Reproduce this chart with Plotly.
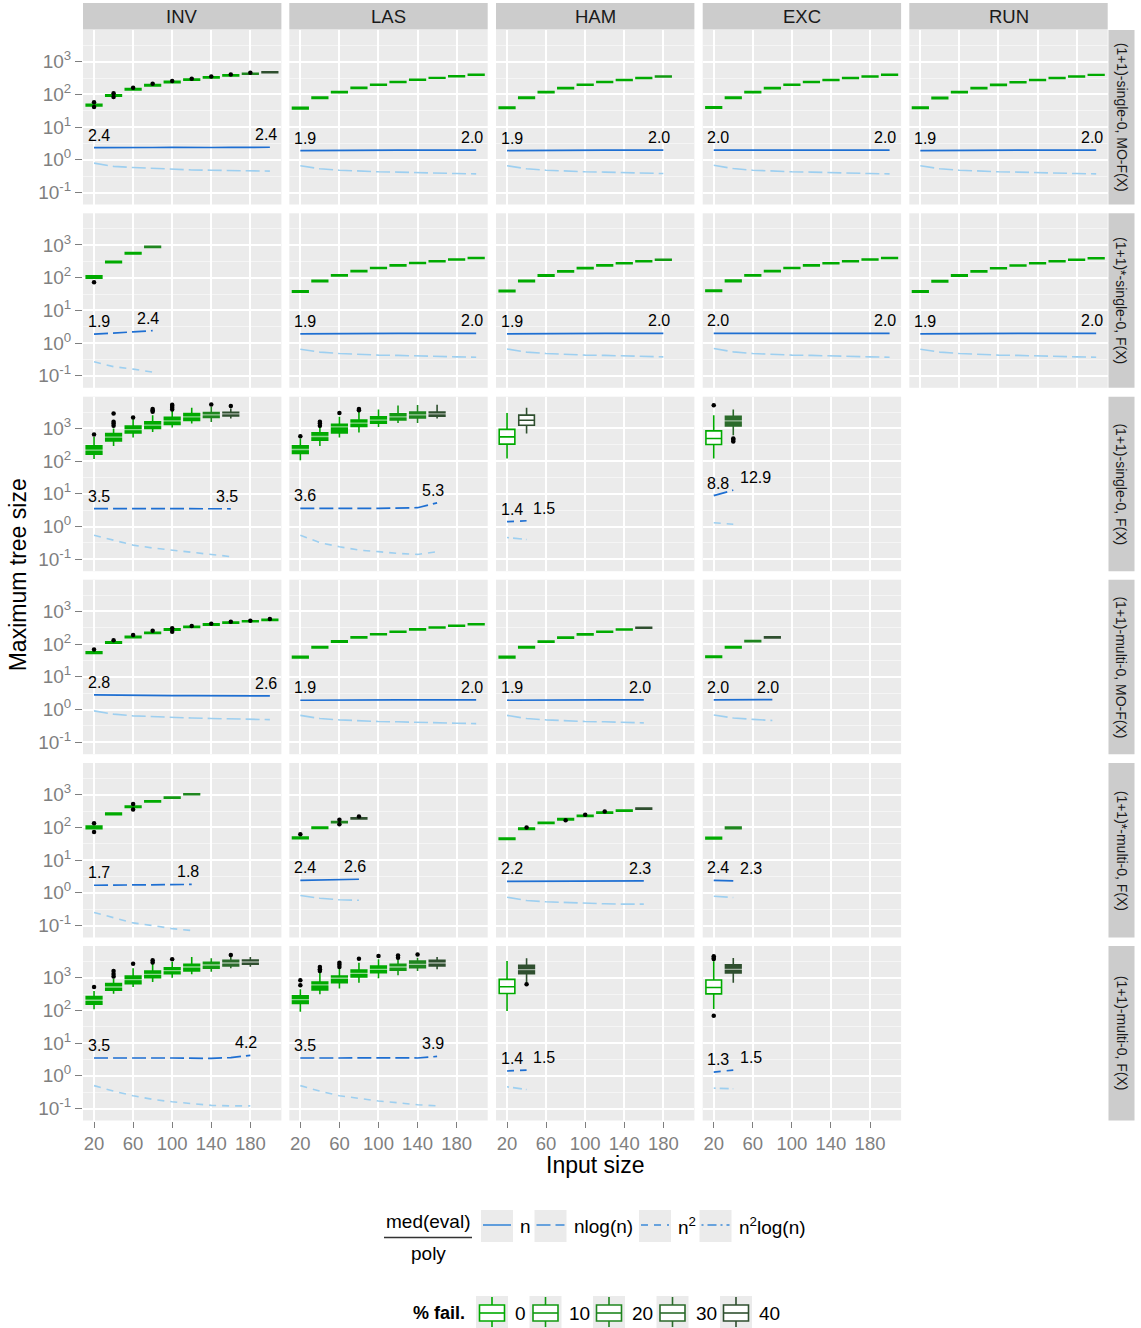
import math
import plotly.graph_objects as go

W, H = 1141, 1328

# ---------------------------------------------------------------- data
SIZES = [20, 40, 60, 80, 100, 120, 140, 160, 180, 200]
ALGOS = ["INV", "LAS", "HAM", "EXC", "RUN"]
VARIANTS = ["(1+1)-single-0, MO-F(X)", "(1+1)*-single-0, F(X)", "(1+1)-single-0, F(X)",
            "(1+1)-multi-0, MO-F(X)", "(1+1)*-multi-0, F(X)", "(1+1)-multi-0, F(X)"]
FAIL_LEVELS = [0, 10, 20, 30, 40]
FAIL_COLORS = ["#00AA00", "#129A12", "#1F861F", "#2B6B2B", "#2F4F2F"]
POLY_KEYS = ["n", "nlogn", "n2", "n2logn"]
POLY_LABELS = ["n", "nlog(n)", "n<sup>2</sup>", "n<sup>2</sup>log(n)"]

# row 1 : (1+1)-single-0, MO-F(X)
r1_inv_med = [47, 93, 143, 190, 240, 282, 333, 383, 428, 473]
r1_inv_q1 = [44, 88, 136, 181, 229, 270, 320, 368, 412, 458]
r1_inv_q3 = [50, 98, 150, 199, 251, 294, 346, 398, 444, 488]
r1_inv_fail = [0, 0, 0, 0, 0, 0, 0, 0, 20, 40]
r1_inv_out_x = [20, 20, 40, 40, 60, 80, 100, 120, 140, 160, 180]
r1_inv_out_y = [58, 41, 108, 83, 160, 212, 258, 300, 352, 403, 455]
r1_inv_main = [2.36, 2.33, 2.38, 2.38, 2.40, 2.35, 2.38, 2.39, 2.38, 2.42]
r1_inv_low = [0.79, 0.63, 0.58, 0.54, 0.52, 0.49, 0.48, 0.47, 0.46, 0.45]

r1_las_med = [38, 79, 117, 158, 198, 238, 280, 320, 360, 400]
r1_las_q1 = [36, 75, 112, 152, 191, 230, 271, 310, 349, 388]
r1_las_q3 = [40, 83, 122, 164, 205, 246, 289, 330, 371, 412]
r1_las_fail = [0, 0, 0, 0, 0, 0, 0, 0, 0, 0]
r1_las_main = [1.92, 1.95, 1.96, 1.97, 1.97, 1.98, 1.98, 1.99, 1.99, 1.97]
r1_las_low = [0.66, 0.53, 0.48, 0.45, 0.43, 0.42, 0.40, 0.39, 0.38, 0.37]

r1_ham_med = [39, 79, 117, 155, 198, 240, 275, 316, 355]
r1_ham_q1 = [37, 75, 112, 149, 191, 232, 266, 306, 344]
r1_ham_q3 = [41, 83, 122, 161, 205, 248, 284, 326, 366]
r1_ham_fail = [0, 0, 0, 0, 0, 0, 0, 0, 10]
r1_ham_main = [1.92, 1.95, 1.96, 1.97, 1.97, 1.98, 1.98, 1.99, 1.97]
r1_ham_low = [0.66, 0.53, 0.48, 0.45, 0.43, 0.42, 0.40, 0.39, 0.38]

r1_exc_med = [40, 79, 117, 155, 198, 240, 275, 316, 355, 400]
r1_exc_q1 = [38, 75, 112, 149, 191, 232, 266, 306, 344, 388]
r1_exc_q3 = [42, 83, 122, 161, 205, 248, 284, 326, 366, 412]
r1_exc_fail = [0, 0, 0, 0, 0, 0, 0, 0, 0, 0]
r1_exc_main = [1.98, 1.97, 1.97, 1.98, 1.98, 1.98, 1.98, 1.99, 1.99, 1.98]
r1_exc_low = [0.68, 0.54, 0.48, 0.45, 0.43, 0.42, 0.40, 0.39, 0.38, 0.37]

r1_run_med = [39, 78, 117, 155, 195, 235, 275, 316, 355, 395]
r1_run_q1 = [37, 74, 112, 149, 188, 227, 266, 306, 344, 383]
r1_run_q3 = [41, 82, 122, 161, 202, 243, 284, 326, 366, 407]
r1_run_fail = [0, 0, 0, 0, 0, 0, 0, 0, 0, 0]
r1_run_main = [1.92, 1.95, 1.96, 1.97, 1.97, 1.98, 1.98, 1.99, 1.99, 1.97]
r1_run_low = [0.66, 0.53, 0.48, 0.45, 0.43, 0.42, 0.40, 0.39, 0.38, 0.37]

# row 2 : (1+1)*-single-0, F(X)
r2_inv_med = [105, 300, 560, 870]
r2_inv_q1 = [97, 285, 535, 840]
r2_inv_q3 = [115, 318, 585, 905]
r2_inv_fail = [0, 0, 0, 20]
r2_inv_out_x = [20]
r2_inv_out_y = [72]
r2_inv_main = [1.88, 2.0, 2.2, 2.4]
r2_inv_low = [0.27, 0.19, 0.16, 0.13]

r2_las_med = [38, 79, 118, 158, 198, 238, 280, 320, 360, 400]
r2_las_q1 = [36, 75, 113, 152, 191, 230, 271, 310, 349, 388]
r2_las_q3 = [40, 83, 123, 164, 205, 246, 289, 330, 371, 412]
r2_las_fail = [0, 0, 0, 0, 0, 0, 0, 0, 0, 0]
r2_las_main = [1.92, 1.95, 1.96, 1.97, 1.97, 1.98, 1.98, 1.99, 1.99, 1.97]
r2_las_low = [0.65, 0.53, 0.48, 0.45, 0.43, 0.42, 0.40, 0.39, 0.38, 0.37]

r2_ham_med = [39, 79, 117, 156, 197, 238, 276, 316, 355]
r2_ham_q1 = [37, 75, 112, 150, 190, 230, 267, 306, 344]
r2_ham_q3 = [41, 83, 122, 162, 204, 246, 285, 326, 366]
r2_ham_fail = [0, 0, 0, 0, 0, 0, 0, 0, 10]
r2_ham_main = [1.92, 1.95, 1.96, 1.97, 1.97, 1.98, 1.98, 1.99, 1.97]
r2_ham_low = [0.66, 0.53, 0.48, 0.45, 0.43, 0.42, 0.40, 0.39, 0.38]

r2_exc_med = [40, 80, 118, 158, 198, 238, 278, 318, 358, 400]
r2_exc_q1 = [38, 76, 113, 152, 191, 230, 269, 308, 347, 388]
r2_exc_q3 = [42, 84, 123, 164, 205, 246, 287, 328, 369, 412]
r2_exc_fail = [0, 0, 0, 0, 0, 0, 0, 0, 0, 0]
r2_exc_main = [1.98, 1.97, 1.97, 1.98, 1.98, 1.98, 1.98, 1.99, 1.99, 1.98]
r2_exc_low = [0.68, 0.54, 0.48, 0.45, 0.43, 0.42, 0.40, 0.39, 0.38, 0.37]

r2_run_med = [38, 78, 117, 156, 195, 235, 275, 316, 355, 395]
r2_run_q1 = [36, 74, 112, 150, 188, 227, 266, 306, 344, 383]
r2_run_q3 = [40, 82, 122, 162, 202, 243, 284, 326, 366, 407]
r2_run_fail = [0, 0, 0, 0, 0, 0, 0, 0, 0, 0]
r2_run_main = [1.92, 1.95, 1.96, 1.97, 1.97, 1.98, 1.98, 1.99, 1.99, 1.97]
r2_run_low = [0.65, 0.53, 0.48, 0.45, 0.43, 0.42, 0.40, 0.39, 0.38, 0.37]

# row 3 : (1+1)-single-0, F(X)
r3_inv_med = [215, 540, 920, 1250, 1700, 2250, 2600, 2770]
r3_inv_q1 = [163, 415, 730, 1000, 1310, 1750, 2150, 2400]
r3_inv_q3 = [292, 700, 1170, 1580, 2200, 2850, 3050, 3100]
r3_inv_lo = [115, 290, 525, 780, 1060, 1400, 1580, 2000]
r3_inv_hi = [550, 1000, 1900, 2540, 3600, 4250, 4550, 4050]
r3_inv_fail = [0, 0, 0, 0, 0, 0, 20, 40]
r3_inv_out_x = [20, 40, 40, 40, 40, 60, 80, 80, 80, 100, 100, 100, 100, 140, 160]
r3_inv_out_y = [650, 1200, 1400, 1600, 2850, 2150, 3200, 3600, 3900, 3800, 4300, 4800, 5300, 5400, 4800]
r3_inv_main = [3.5, 3.45, 3.45, 3.5, 3.5, 3.55, 3.5, 3.48]
r3_inv_low = [0.54, 0.38, 0.27, 0.22, 0.19, 0.16, 0.14, 0.12]

r3_las_med = [226, 565, 1110, 1440, 1780, 2250, 2600, 2770]
r3_las_q1 = [171, 435, 730, 1150, 1440, 1800, 2100, 2350]
r3_las_q3 = [292, 730, 1340, 1800, 2250, 2800, 3150, 3150]
r3_las_lo = [107, 290, 525, 750, 1110, 1470, 1470, 2000]
r3_las_hi = [490, 1100, 2250, 3400, 3800, 5000, 5200, 5300]
r3_las_fail = [0, 0, 0, 0, 0, 10, 20, 40]
r3_las_out_x = [20, 40, 40, 40, 60, 80, 80]
r3_las_out_y = [575, 1200, 1400, 1600, 2970, 3600, 3900]
r3_las_main = [3.6, 3.55, 3.55, 3.6, 3.6, 3.65, 3.75, 5.3]
r3_las_low = [0.54, 0.32, 0.24, 0.19, 0.17, 0.15, 0.14, 0.17]

r3_ham_med = [550, 1780]
r3_ham_q1 = [330, 1250]
r3_ham_q3 = [930, 2540]
r3_ham_lo = [120, 700]
r3_ham_hi = [2970, 4250]
r3_ham_fail = [0, 40]
r3_ham_hollow = [True, True]
r3_ham_main = [1.4, 1.5]
r3_ham_low = [0.46, 0.40]

r3_exc_med = [490, 1700]
r3_exc_q1 = [323, 1190]
r3_exc_q3 = [840, 2360]
r3_exc_lo = [120, 620]
r3_exc_hi = [2540, 3800]
r3_exc_fail = [0, 30]
r3_exc_hollow = [True, False]
r3_exc_out_x = [20, 40, 40, 40]
r3_exc_out_y = [5100, 400, 450, 490]
r3_exc_main = [8.8, 12.9]
r3_exc_low = [1.3, 1.17]

# row 4 : (1+1)-multi-0, MO-F(X)
r4_inv_med = [55, 112, 166, 220, 280, 337, 397, 457, 500, 550]
r4_inv_q1 = [52, 106, 158, 210, 267, 322, 380, 438, 480, 528]
r4_inv_q3 = [58, 118, 174, 230, 293, 352, 414, 476, 520, 572]
r4_inv_fail = [0, 0, 0, 0, 0, 0, 0, 0, 0, 0]
r4_inv_out_x = [20, 40, 60, 80, 100, 100, 120, 140, 160, 180, 200]
r4_inv_out_y = [68, 132, 190, 255, 240, 305, 360, 420, 480, 520, 590]
r4_inv_main = [2.78, 2.72, 2.70, 2.68, 2.66, 2.65, 2.64, 2.63, 2.62, 2.60]
r4_inv_low = [0.91, 0.72, 0.64, 0.60, 0.57, 0.55, 0.53, 0.52, 0.50, 0.49]

r4_las_med = [40, 80, 120, 160, 200, 240, 282, 322, 362, 402]
r4_las_q1 = [38, 76, 115, 154, 193, 232, 273, 312, 351, 390]
r4_las_q3 = [42, 84, 125, 166, 207, 248, 291, 332, 373, 414]
r4_las_fail = [0, 0, 0, 0, 0, 0, 0, 0, 0, 0]
r4_las_main = [1.92, 1.95, 1.96, 1.97, 1.97, 1.98, 1.98, 1.99, 1.99, 1.97]
r4_las_low = [0.66, 0.53, 0.48, 0.45, 0.43, 0.42, 0.40, 0.39, 0.38, 0.37]

r4_ham_med = [40, 80, 119, 158, 198, 240, 280, 318]
r4_ham_q1 = [38, 76, 114, 152, 191, 232, 271, 308]
r4_ham_q3 = [42, 84, 124, 164, 205, 248, 289, 328]
r4_ham_fail = [0, 0, 0, 0, 0, 0, 0, 40]
r4_ham_main = [1.92, 1.95, 1.96, 1.97, 1.97, 1.98, 1.98, 1.98]
r4_ham_low = [0.66, 0.53, 0.48, 0.45, 0.43, 0.42, 0.40, 0.39]

r4_exc_med = [41, 80, 124, 160]
r4_exc_q1 = [39, 76, 119, 154]
r4_exc_q3 = [43, 84, 129, 166]
r4_exc_fail = [0, 0, 20, 40]
r4_exc_main = [1.98, 1.99, 2.0, 2.0]
r4_exc_low = [0.68, 0.55, 0.50, 0.46]

# row 5 : (1+1)*-multi-0, F(X)
r5_inv_med = [100, 260, 430, 620, 810, 1030]
r5_inv_q1 = [92, 245, 410, 595, 780, 1000]
r5_inv_q3 = [109, 276, 452, 645, 840, 1060]
r5_inv_fail = [0, 0, 0, 0, 10, 20]
r5_inv_out_x = [20, 20, 60, 60]
r5_inv_out_y = [135, 72, 520, 350]
r5_inv_main = [1.7, 1.72, 1.73, 1.75, 1.77, 1.8]
r5_inv_low = [0.25, 0.17, 0.12, 0.10, 0.08, 0.07]

r5_las_med = [48, 98, 145, 190]
r5_las_q1 = [45, 93, 138, 182]
r5_las_q3 = [51, 103, 152, 198]
r5_las_fail = [0, 0, 20, 40]
r5_las_out_x = [20, 60, 60, 80]
r5_las_out_y = [62, 125, 172, 215]
r5_las_main = [2.4, 2.45, 2.45, 2.6]
r5_las_low = [0.83, 0.68, 0.61, 0.59]

r5_ham_med = [45, 91, 138, 178, 226, 282, 325, 373]
r5_ham_q1 = [43, 87, 132, 170, 216, 270, 311, 358]
r5_ham_q3 = [47, 95, 144, 186, 236, 294, 339, 388]
r5_ham_fail = [0, 0, 0, 0, 0, 0, 0, 40]
r5_ham_out_x = [40, 80, 100, 120]
r5_ham_out_y = [100, 165, 242, 305]
r5_ham_main = [2.22, 2.22, 2.22, 2.23, 2.24, 2.25, 2.27, 2.3]
r5_ham_low = [0.73, 0.58, 0.53, 0.50, 0.47, 0.46, 0.45, 0.45]

r5_exc_med = [47, 97]
r5_exc_q1 = [44, 92]
r5_exc_q3 = [50, 102]
r5_exc_fail = [0, 20]
r5_exc_main = [2.4, 2.3]
r5_exc_low = [0.78, 0.72]

# row 6 : (1+1)-multi-0, F(X)
r6_inv_med = [204, 520, 870, 1270, 1640, 2120, 2440, 2810, 3020]
r6_inv_q1 = [154, 412, 660, 1000, 1320, 1600, 1940, 2270, 2570]
r6_inv_q3 = [263, 660, 1125, 1600, 2020, 2560, 2950, 3400, 3460]
r6_inv_lo = [108, 325, 520, 740, 1000, 1270, 1520, 1930, 2170]
r6_inv_hi = [390, 930, 1930, 2760, 3020, 4290, 3900, 4380, 4290]
r6_inv_fail = [0, 0, 0, 0, 0, 0, 10, 30, 40]
r6_inv_out_x = [20, 40, 40, 40, 60, 80, 80, 100, 160]
r6_inv_out_y = [520, 1080, 1300, 1600, 2680, 2900, 3400, 3640, 4930]
r6_inv_main = [3.5, 3.45, 3.45, 3.5, 3.5, 3.45, 3.4, 3.6, 4.2]
r6_inv_low = [0.5, 0.34, 0.245, 0.19, 0.16, 0.14, 0.125, 0.12, 0.12]

r6_las_med = [214, 600, 960, 1360, 1800, 2120, 2570, 2810]
r6_las_q1 = [162, 420, 700, 1050, 1420, 1680, 2020, 2270]
r6_las_q3 = [277, 740, 1130, 1720, 2270, 2560, 3230, 3400]
r6_las_lo = [91, 310, 470, 700, 960, 1180, 1600, 1800]
r6_las_hi = [440, 1420, 2020, 2870, 3640, 3640, 4070, 4290]
r6_las_fail = [0, 0, 0, 0, 0, 10, 20, 40]
r6_las_out_x = [20, 20, 40, 40, 40, 60, 60, 60, 80, 100, 120, 120, 140]
r6_las_out_y = [590, 830, 1600, 1800, 2120, 2130, 2500, 2870, 3800, 4600, 4100, 4800, 5150]
r6_las_main = [3.5, 3.45, 3.5, 3.55, 3.6, 3.55, 3.5, 3.9]
r6_las_low = [0.5, 0.34, 0.245, 0.2, 0.17, 0.15, 0.13, 0.12]

r6_ham_med = [530, 1760]
r6_ham_q1 = [330, 1320]
r6_ham_q3 = [890, 2400]
r6_ham_lo = [96, 700]
r6_ham_hi = [3240, 3900]
r6_ham_fail = [0, 40]
r6_ham_hollow = [True, False]
r6_ham_out_x = [40]
r6_ham_out_y = [630]
r6_ham_main = [1.4, 1.5]
r6_ham_low = [0.46, 0.38]

r6_exc_med = [500, 1800]
r6_exc_q1 = [320, 1400]
r6_exc_q3 = [850, 2500]
r6_exc_lo = [110, 700]
r6_exc_hi = [3200, 4000]
r6_exc_fail = [0, 40]
r6_exc_hollow = [True, False]
r6_exc_out_x = [20, 20, 20, 20]
r6_exc_out_y = [4500, 4000, 3700, 68]
r6_exc_main = [1.3, 1.5]
r6_exc_low = [0.42, 0.40]


def panel(med, q1, q3, fail, main, low, main_poly, low_poly,
          lo=None, hi=None, out_x=None, out_y=None, hollow=None):
    return dict(med=med, q1=q1, q3=q3, fail=fail, main=main, low=low,
                main_poly=main_poly, low_poly=low_poly, lo=lo, hi=hi,
                out_x=out_x or [], out_y=out_y or [], hollow=hollow)


PANELS = {
    (0, 0): panel(r1_inv_med, r1_inv_q1, r1_inv_q3, r1_inv_fail, r1_inv_main, r1_inv_low, "n", "nlogn",
                  out_x=r1_inv_out_x, out_y=r1_inv_out_y),
    (0, 1): panel(r1_las_med, r1_las_q1, r1_las_q3, r1_las_fail, r1_las_main, r1_las_low, "n", "nlogn"),
    (0, 2): panel(r1_ham_med, r1_ham_q1, r1_ham_q3, r1_ham_fail, r1_ham_main, r1_ham_low, "n", "nlogn"),
    (0, 3): panel(r1_exc_med, r1_exc_q1, r1_exc_q3, r1_exc_fail, r1_exc_main, r1_exc_low, "n", "nlogn"),
    (0, 4): panel(r1_run_med, r1_run_q1, r1_run_q3, r1_run_fail, r1_run_main, r1_run_low, "n", "nlogn"),
    (1, 0): panel(r2_inv_med, r2_inv_q1, r2_inv_q3, r2_inv_fail, r2_inv_main, r2_inv_low, "nlogn", "n2",
                  out_x=r2_inv_out_x, out_y=r2_inv_out_y),
    (1, 1): panel(r2_las_med, r2_las_q1, r2_las_q3, r2_las_fail, r2_las_main, r2_las_low, "n", "nlogn"),
    (1, 2): panel(r2_ham_med, r2_ham_q1, r2_ham_q3, r2_ham_fail, r2_ham_main, r2_ham_low, "n", "nlogn"),
    (1, 3): panel(r2_exc_med, r2_exc_q1, r2_exc_q3, r2_exc_fail, r2_exc_main, r2_exc_low, "n", "nlogn"),
    (1, 4): panel(r2_run_med, r2_run_q1, r2_run_q3, r2_run_fail, r2_run_main, r2_run_low, "n", "nlogn"),
    (2, 0): panel(r3_inv_med, r3_inv_q1, r3_inv_q3, r3_inv_fail, r3_inv_main, r3_inv_low, "nlogn", "n2",
                  lo=r3_inv_lo, hi=r3_inv_hi, out_x=r3_inv_out_x, out_y=r3_inv_out_y),
    (2, 1): panel(r3_las_med, r3_las_q1, r3_las_q3, r3_las_fail, r3_las_main, r3_las_low, "nlogn", "n2",
                  lo=r3_las_lo, hi=r3_las_hi, out_x=r3_las_out_x, out_y=r3_las_out_y),
    (2, 2): panel(r3_ham_med, r3_ham_q1, r3_ham_q3, r3_ham_fail, r3_ham_main, r3_ham_low, "n2", "n2logn",
                  lo=r3_ham_lo, hi=r3_ham_hi, hollow=r3_ham_hollow),
    (2, 3): panel(r3_exc_med, r3_exc_q1, r3_exc_q3, r3_exc_fail, r3_exc_main, r3_exc_low, "nlogn", "n2",
                  lo=r3_exc_lo, hi=r3_exc_hi, out_x=r3_exc_out_x, out_y=r3_exc_out_y, hollow=r3_exc_hollow),
    (3, 0): panel(r4_inv_med, r4_inv_q1, r4_inv_q3, r4_inv_fail, r4_inv_main, r4_inv_low, "n", "nlogn",
                  out_x=r4_inv_out_x, out_y=r4_inv_out_y),
    (3, 1): panel(r4_las_med, r4_las_q1, r4_las_q3, r4_las_fail, r4_las_main, r4_las_low, "n", "nlogn"),
    (3, 2): panel(r4_ham_med, r4_ham_q1, r4_ham_q3, r4_ham_fail, r4_ham_main, r4_ham_low, "n", "nlogn"),
    (3, 3): panel(r4_exc_med, r4_exc_q1, r4_exc_q3, r4_exc_fail, r4_exc_main, r4_exc_low, "n", "nlogn"),
    (4, 0): panel(r5_inv_med, r5_inv_q1, r5_inv_q3, r5_inv_fail, r5_inv_main, r5_inv_low, "nlogn", "n2",
                  out_x=r5_inv_out_x, out_y=r5_inv_out_y),
    (4, 1): panel(r5_las_med, r5_las_q1, r5_las_q3, r5_las_fail, r5_las_main, r5_las_low, "n", "nlogn",
                  out_x=r5_las_out_x, out_y=r5_las_out_y),
    (4, 2): panel(r5_ham_med, r5_ham_q1, r5_ham_q3, r5_ham_fail, r5_ham_main, r5_ham_low, "n", "nlogn",
                  out_x=r5_ham_out_x, out_y=r5_ham_out_y),
    (4, 3): panel(r5_exc_med, r5_exc_q1, r5_exc_q3, r5_exc_fail, r5_exc_main, r5_exc_low, "n", "nlogn"),
    (5, 0): panel(r6_inv_med, r6_inv_q1, r6_inv_q3, r6_inv_fail, r6_inv_main, r6_inv_low, "nlogn", "n2",
                  lo=r6_inv_lo, hi=r6_inv_hi, out_x=r6_inv_out_x, out_y=r6_inv_out_y),
    (5, 1): panel(r6_las_med, r6_las_q1, r6_las_q3, r6_las_fail, r6_las_main, r6_las_low, "nlogn", "n2",
                  lo=r6_las_lo, hi=r6_las_hi, out_x=r6_las_out_x, out_y=r6_las_out_y),
    (5, 2): panel(r6_ham_med, r6_ham_q1, r6_ham_q3, r6_ham_fail, r6_ham_main, r6_ham_low, "n2", "n2logn",
                  lo=r6_ham_lo, hi=r6_ham_hi, out_x=r6_ham_out_x, out_y=r6_ham_out_y, hollow=r6_ham_hollow),
    (5, 3): panel(r6_exc_med, r6_exc_q1, r6_exc_q3, r6_exc_fail, r6_exc_main, r6_exc_low, "n2", "n2logn",
                  lo=r6_exc_lo, hi=r6_exc_hi, out_x=r6_exc_out_x, out_y=r6_exc_out_y, hollow=r6_exc_hollow),
}

# ---------------------------------------------------------------- style / geometry
FONT = "Liberation Sans, Arial, Helvetica, sans-serif"
PANEL_BG = "#EBEBEB"
STRIP_BG = "#CCCCCC"
MINOR_GRID = "#F5F5F5"
TICK_GREY = "#7F7F7F"
MAIN_COLOR = "#1E6FD2"
LOW_COLOR = "#9DCFF0"
KEY_LINE_COLOR = "#3C8AD9"
DASH = {"n": "solid", "nlogn": "14px,5px", "n2": "7px,6px", "n2logn": "2px,4px,9px,4px"}

COL_LEFT = [83.0, 289.3, 496.0, 702.7, 909.3]
COL_W = 198.4
ROW_TOP = [30.0, 213.3, 396.7, 579.7, 763.0, 946.0]
ROW_H = 174.5
X_RANGE = [8.7, 211.8]
Y_RANGE = [-1.367, 3.969]
PX_PER_X = COL_W / (X_RANGE[1] - X_RANGE[0])
BOX_WIDTH = 16


def fx(px):
    return px / W


def fy(py):
    return 1 - py / H


def axis_ids(r, c):
    k = r * 5 + c + 1
    s = "" if k == 1 else str(k)
    return "x" + s, "y" + s, "xaxis" + s, "yaxis" + s


fig = go.Figure()
layout_axes = {}
for r in range(6):
    for c in range(5):
        xr, yr, xa, ya = axis_ids(r, c)
        bottom = r == 5
        left = c == 0
        layout_axes[xa] = dict(
            domain=[fx(COL_LEFT[c]), fx(COL_LEFT[c] + COL_W)], anchor=yr,
            range=X_RANGE, tickvals=[20, 60, 100, 140, 180],
            showgrid=True, gridcolor="white", gridwidth=1.8, zeroline=False, showline=False,
            showticklabels=bottom, ticks="outside" if bottom else "", ticklen=6, tickwidth=1.4,
            tickcolor=TICK_GREY, tickfont=dict(size=18.5, color=TICK_GREY, family=FONT),
        )
        layout_axes[ya] = dict(
            domain=[fy(ROW_TOP[r] + ROW_H), fy(ROW_TOP[r])], anchor=xr, type="log",
            range=Y_RANGE, tickvals=[0.1, 1, 10, 100, 1000],
            ticktext=["10<sup>-1</sup>", "10<sup>0</sup>", "10<sup>1</sup>", "10<sup>2</sup>", "10<sup>3</sup>"],
            showgrid=True, gridcolor="white", gridwidth=1.8, zeroline=False, showline=False,
            showticklabels=left, ticks="outside" if left else "", ticklen=7, tickwidth=1.4,
            tickcolor=TICK_GREY, tickfont=dict(size=19, color=TICK_GREY, family=FONT),
            minor=dict(tickvals=[10 ** -0.5, 10 ** 0.5, 10 ** 1.5, 10 ** 2.5, 10 ** 3.5],
                       showgrid=True, gridcolor=MINOR_GRID, gridwidth=0.9, ticks=""),
        )

annotations = []
shapes = []


def text_w(t):
    return 16 * (0.556 * sum(ch.isdigit() for ch in t) + 0.278)


for (r, c), p in PANELS.items():
    xr, yr, _, _ = axis_ids(r, c)
    n = len(p["med"])
    xs = SIZES[:n]
    lo = p["lo"] or p["q1"]
    hi = p["hi"] or p["q3"]
    hollow = p["hollow"] or [False] * n
    groups = {}
    for i in range(n):
        groups.setdefault((p["fail"][i], hollow[i]), []).append(i)
    for (f, hol), idx in groups.items():
        col = FAIL_COLORS[FAIL_LEVELS.index(f)]
        fig.add_trace(go.Box(
            x=[xs[i] for i in idx], q1=[p["q1"][i] for i in idx], median=[p["med"][i] for i in idx],
            q3=[p["q3"][i] for i in idx], lowerfence=[lo[i] for i in idx], upperfence=[hi[i] for i in idx],
            orientation="v", width=BOX_WIDTH, whiskerwidth=0, boxpoints=False,
            line=dict(color=col, width=1.6), fillcolor="rgba(255,255,255,0.9)" if hol else col,
            xaxis=xr, yaxis=yr, showlegend=False, hoverinfo="skip"))
        if p["lo"] is not None and not hol:
            fig.add_trace(go.Scatter(
                x=[xs[i] for i in idx], y=[p["med"][i] for i in idx], mode="markers",
                marker=dict(symbol="line-ew", size=13, line=dict(color="rgba(255,255,255,0.55)", width=1.3)),
                xaxis=xr, yaxis=yr, showlegend=False, hoverinfo="skip"))
    if p["out_x"]:
        fig.add_trace(go.Scatter(
            x=p["out_x"], y=p["out_y"], mode="markers",
            marker=dict(color="black", size=4.5), xaxis=xr, yaxis=yr, showlegend=False, hoverinfo="skip"))
    fig.add_trace(go.Scatter(
        x=xs, y=p["low"], mode="lines", line=dict(color=LOW_COLOR, width=1.6, dash=DASH[p["low_poly"]]),
        xaxis=xr, yaxis=yr, showlegend=False, hoverinfo="skip"))
    fig.add_trace(go.Scatter(
        x=xs, y=p["main"], mode="lines", line=dict(color=MAIN_COLOR, width=1.7, dash=DASH[p["main_poly"]]),
        xaxis=xr, yaxis=yr, showlegend=False, hoverinfo="skip"))

    # ratio labels at both ends of the main line
    first_txt = f"{p['main'][0]:.1f}"
    last_txt = f"{p['main'][-1]:.1f}"
    first_center = 4.7
    first_right_px = (xs[0] - X_RANGE[0]) * PX_PER_X + first_center + text_w(first_txt) / 2
    last_px = (xs[-1] - X_RANGE[0]) * PX_PER_X
    last_shift = -4.2
    if last_px + last_shift - text_w(last_txt) / 2 < first_right_px + 9:
        last_shift = first_right_px + 10 + text_w(last_txt) / 2 - last_px
    for xv, v, t, sh in [(xs[0], p["main"][0], first_txt, first_center),
                         (xs[-1], p["main"][-1], last_txt, last_shift)]:
        annotations.append(dict(
            x=xv, y=math.log10(v), xref=xr, yref=yr, text=t, showarrow=False,
            xanchor="center", yanchor="middle", xshift=sh, yshift=12.5,
            font=dict(size=16, color="black", family=FONT)))

# ---------------------------------------------------------------- facet strips
for c, name in enumerate(ALGOS):
    shapes.append(dict(type="rect", xref="paper", yref="paper", x0=fx(COL_LEFT[c]), x1=fx(COL_LEFT[c] + COL_W),
                       y0=fy(29.5), y1=fy(3), fillcolor=STRIP_BG, line=dict(width=0), layer="below"))
    annotations.append(dict(x=fx(COL_LEFT[c] + COL_W / 2), y=fy(16.5), xref="paper", yref="paper", text=name,
                            showarrow=False, xanchor="center", yanchor="middle",
                            font=dict(size=18.5, color="#1A1A1A", family=FONT)))
for r, name in enumerate(VARIANTS):
    shapes.append(dict(type="rect", xref="paper", yref="paper", x0=fx(1108.5), x1=fx(1134.5),
                       y0=fy(ROW_TOP[r] + ROW_H), y1=fy(ROW_TOP[r]), fillcolor=STRIP_BG,
                       line=dict(width=0), layer="below"))
    annotations.append(dict(x=fx(1121.5), y=fy(ROW_TOP[r] + ROW_H / 2), xref="paper", yref="paper", text=name,
                            showarrow=False, textangle=90, xanchor="center", yanchor="middle",
                            font=dict(size=14, color="#1A1A1A", family=FONT)))

# ---------------------------------------------------------------- axis titles
annotations.append(dict(x=fx(18), y=fy(575.3), xref="paper", yref="paper", text="Maximum tree size",
                        showarrow=False, textangle=-90, xanchor="center", yanchor="middle",
                        font=dict(size=23, color="black", family=FONT)))
annotations.append(dict(x=fx(595.3), y=fy(1165), xref="paper", yref="paper", text="Input size",
                        showarrow=False, xanchor="center", yanchor="middle",
                        font=dict(size=23, color="black", family=FONT)))

# ---------------------------------------------------------------- legend: ratio line types
annotations.append(dict(x=fx(428), y=fy(1221), xref="paper", yref="paper", text="med(eval)", showarrow=False,
                        xanchor="center", yanchor="middle", font=dict(size=19, color="black", family=FONT)))
shapes.append(dict(type="line", xref="paper", yref="paper", x0=fx(384), x1=fx(472), y0=fy(1237.5),
                   y1=fy(1237.5), line=dict(color="#333333", width=1.5)))
annotations.append(dict(x=fx(428.5), y=fy(1253), xref="paper", yref="paper", text="poly", showarrow=False,
                        xanchor="center", yanchor="middle", font=dict(size=19, color="black", family=FONT)))
LINE_KEY_LEFT = [481, 534.5, 639, 699.5]
for key, label, kx in zip(POLY_KEYS, POLY_LABELS, LINE_KEY_LEFT):
    shapes.append(dict(type="rect", xref="paper", yref="paper", x0=fx(kx), x1=fx(kx + 32), y0=fy(1242),
                       y1=fy(1210), fillcolor=PANEL_BG, line=dict(width=0)))
    shapes.append(dict(type="line", xref="paper", yref="paper", x0=fx(kx + 2), x1=fx(kx + 30), y0=fy(1225),
                       y1=fy(1225), line=dict(color=KEY_LINE_COLOR, width=1.6, dash=DASH[key])))
    annotations.append(dict(x=fx(kx + 37), y=fy(1226), xref="paper", yref="paper", text=label, showarrow=False,
                            xanchor="left", yanchor="middle", font=dict(size=19, color="black", family=FONT)))

# ---------------------------------------------------------------- legend: failure rate boxes
annotations.append(dict(x=fx(467), y=fy(1313), xref="paper", yref="paper", text="<b>% fail.</b>",
                        showarrow=False, xanchor="right", yanchor="middle",
                        font=dict(size=18, color="black", family=FONT)))
BOX_KEY_LEFT = [476, 529.5, 593, 656.5, 720]
for lvl, col, kx in zip(FAIL_LEVELS, FAIL_COLORS, BOX_KEY_LEFT):
    cx = kx + 16
    shapes.append(dict(type="rect", xref="paper", yref="paper", x0=fx(kx), x1=fx(kx + 32), y0=fy(1328),
                       y1=fy(1296), fillcolor=PANEL_BG, line=dict(width=0)))
    shapes.append(dict(type="rect", xref="paper", yref="paper", x0=fx(kx + 3.5), x1=fx(kx + 28.5),
                       y0=fy(1321), y1=fy(1305), fillcolor="white", line=dict(color=col, width=1.6)))
    shapes.append(dict(type="line", xref="paper", yref="paper", x0=fx(kx + 3.5), x1=fx(kx + 28.5),
                       y0=fy(1313), y1=fy(1313), line=dict(color=col, width=1.6)))
    shapes.append(dict(type="line", xref="paper", yref="paper", x0=fx(cx), x1=fx(cx),
                       y0=fy(1305), y1=fy(1297), line=dict(color=col, width=1.6)))
    shapes.append(dict(type="line", xref="paper", yref="paper", x0=fx(cx), x1=fx(cx),
                       y0=fy(1321), y1=fy(1327), line=dict(color=col, width=1.6)))
    annotations.append(dict(x=fx(kx + 37), y=fy(1313), xref="paper", yref="paper", text=str(lvl),
                            showarrow=False, xanchor="left", yanchor="middle",
                            font=dict(size=19, color="black", family=FONT)))

fig.update_layout(
    width=W, height=H, margin=dict(l=0, r=0, t=0, b=0), autosize=False,
    paper_bgcolor="white", plot_bgcolor=PANEL_BG, boxmode="overlay",
    font=dict(family=FONT), showlegend=False,
    annotations=annotations, shapes=shapes, **layout_axes)

fig.write_html("out.html")
